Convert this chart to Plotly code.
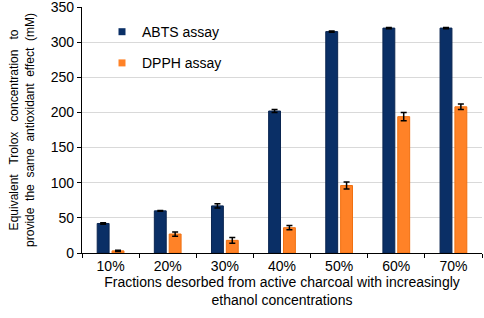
import plotly.graph_objects as go

categories = ["10%", "20%", "30%", "40%", "50%", "60%", "70%"]
abts = [42, 60, 67, 202, 315, 320, 320]
abts_err = [1, 0.5, 3, 2, 1, 1, 1]
dpph = [3, 27, 18, 36, 96, 194, 208]
dpph_err = [1, 3, 4, 3, 5, 6, 4]

navy = "#0A2F66"
orange = "#FF8227"

fig = go.Figure()
fig.add_bar(x=categories, y=abts, name="ABTS assay", showlegend=False,
            marker=dict(color=navy, line=dict(color="#0A2550", width=1)),
            error_y=dict(type="data", array=abts_err, color="black", thickness=1.5, width=3))
fig.add_bar(x=categories, y=dpph, name="DPPH assay", showlegend=False,
            marker=dict(color=orange, line=dict(color="#F07010", width=1)),
            error_y=dict(type="data", array=dpph_err, color="black", thickness=1.5, width=3))
# legend entries with small square swatches
fig.add_scatter(x=[None], y=[None], mode="markers", name="ABTS assay", legendgroup="a",
                marker=dict(symbol="square", size=7, color=navy))
fig.add_scatter(x=[None], y=[None], mode="markers", name="DPPH assay", legendgroup="b",
                marker=dict(symbol="square", size=7, color=orange))

fig.update_layout(
    width=484, height=318,
    margin=dict(l=82, r=2, t=7, b=65),
    paper_bgcolor="white", plot_bgcolor="white",
    barmode="group", bargap=0.48, bargroupgap=0.2,
    font=dict(family="Liberation Sans, Arial", color="black"),
    legend=dict(x=0.05, y=0.963, xanchor="left", yanchor="top",
                font=dict(size=14), tracegroupgap=10, itemwidth=30,
                bgcolor="rgba(0,0,0,0)"),
    showlegend=True,
)
fig.update_xaxes(
    type="category", showline=True, linecolor="black", linewidth=1.2,
    ticks="outside", tickson="boundaries", ticklen=4, tickcolor="black",
    tickfont=dict(size=14), automargin=False,
    title=dict(text="Fractions desorbed from active charcoal with increasingly<br>ethanol concentrations",
               font=dict(size=14), standoff=4),
)
fig.update_yaxes(
    range=[0, 350.01], dtick=50, showline=True, linecolor="black", linewidth=1.2,
    ticks="outside", ticklen=4, tickcolor="black", tickfont=dict(size=14),
    ticklabeloverflow="allow",
    showgrid=True, gridcolor="#D9D9D9", gridwidth=1, zeroline=False, automargin=False,
    title=dict(text="Equivalent   Trolox   concentration   to<br>provide  the  same  antioxidant  effect  (mM)",
               font=dict(size=12), standoff=13),
)

fig.write_html("out.html", config={"displayModeBar": False},
               post_script="document.body.style.margin='0px';")
